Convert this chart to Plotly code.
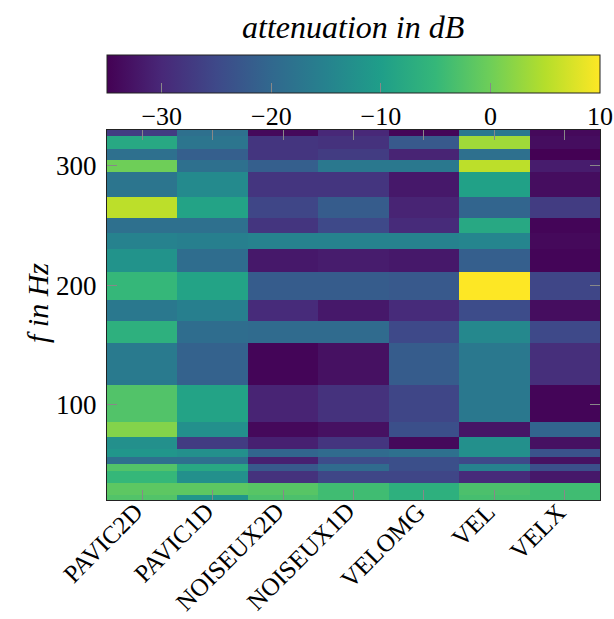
import plotly.graph_objects as go

methods = ["PAVIC2D", "PAVIC1D", "NOISEUX2D", "NOISEUX1D", "VELOMG", "VEL", "VELX"]

# frequency band edges in Hz (bottom to top)
band_edges_hz = [20.5, 24.7, 35.0, 44.8, 50.6, 56.5, 62.9, 73.5, 86.0, 116.7,
                 151.6, 169.7, 187.9, 211.0, 230.5, 243.9, 255.6, 273.8,
                 294.7, 304.2, 313.4, 324.5, 329.5]

# attenuation in dB, one row per band (bottom to top), columns follow `methods`
attenuation_db = [
    [-2.5, -11.5, -3.0, -4.0, -6.5, -3.5, -4.0],
    [-1.5, -1.5, -2.0, -4.0, -6.5, -3.0, -4.0],
    [-5.0, -12.5, -28.5, -25.5, -25.5, -29.5, -32.0],
    [-2.5, -8.0, -22.5, -19.5, -24.0, -15.0, -24.0],
    [-18.5, -18.5, -31.0, -24.5, -24.0, -25.0, -33.0],
    [-11.5, -12.5, -20.5, -19.5, -18.5, -12.5, -23.5],
    [-12.5, -27.0, -31.0, -28.0, -34.0, -12.5, -33.0],
    [1.5, -12.5, -34.0, -33.0, -24.0, -32.5, -20.5],
    [-2.5, -9.0, -30.5, -28.5, -25.5, -17.0, -34.5],
    [-16.5, -21.0, -34.5, -33.0, -22.0, -17.0, -29.0],
    [-6.5, -19.0, -19.5, -19.5, -25.0, -14.0, -25.0],
    [-17.0, -15.5, -29.5, -32.0, -29.5, -24.5, -33.5],
    [-5.0, -9.0, -22.0, -22.0, -22.5, 10.0, -25.5],
    [-12.0, -19.0, -32.0, -31.5, -32.0, -21.5, -34.5],
    [-15.0, -15.5, -15.0, -15.0, -15.0, -14.5, -34.0],
    [-18.5, -18.5, -28.0, -25.0, -29.5, -8.0, -34.5],
    [5.5, -9.0, -25.5, -22.0, -30.5, -20.5, -27.0],
    [-17.5, -13.5, -28.0, -28.0, -32.0, -9.5, -33.5],
    [0.0, -18.5, -21.5, -17.0, -17.0, 5.5, -31.5],
    [-18.5, -21.5, -28.0, -27.0, -30.5, -18.5, -35.0],
    [-8.0, -17.5, -28.0, -28.5, -22.5, 3.5, -33.5],
    [-27.0, -18.5, -34.0, -30.0, -34.5, -17.0, -34.0],
]

y_ticks = [100, 200, 300]
cbar_ticks = [-30, -20, -10, 0, 10]
z_min, z_max = -35, 10

FONT = "Liberation Serif"
W, H = 614, 619
ml, mr, mt, mb = 107, 14, 130, 119
ph = H - mt - mb
pw = W - ml - mr

def py(px_from_top):
    """figure pixel row -> paper y"""
    return (H - mb - px_from_top) / ph

def pxx(px_from_left):
    return (px_from_left - ml) / pw

cb_top, cb_thick = 55, 38

fig = go.Figure(go.Heatmap(
    z=attenuation_db,
    x=methods,
    y=band_edges_hz,
    zmin=z_min, zmax=z_max,
    colorscale="Viridis",
    colorbar=dict(
        orientation="h",
        x=0.5, xanchor="center",
        len=1, lenmode="fraction",
        y=py(cb_top), yanchor="top",
        thickness=cb_thick, thicknessmode="pixels",
        xpad=0, ypad=0,
        outlinewidth=1, outlinecolor="#222",
        ticks="inside", ticklen=10, tickcolor="#888", tickwidth=1,
        tickvals=cbar_ticks,
        ticklabeloverflow="allow",
        tickfont=dict(family=FONT, size=26, color="black"),
    ),
))

# mirrored colorbar tick marks along the top edge of the bar
shapes = []
for v in cbar_ticks[:-1]:
    xv = (v - z_min) / (z_max - z_min)
    shapes.append(dict(type="line", xref="paper", yref="paper",
                       x0=xv, x1=xv, y0=py(cb_top), y1=py(cb_top + 10),
                       line=dict(color="#888", width=1)))

# rotated category labels, anchored by their top-right corner under each tick
annotations = [
    dict(text=m, xref="x", yref="paper", x=m, y=0,
         xanchor="right", yanchor="top", xshift=9, yshift=5,
         textangle=-45, showarrow=False,
         font=dict(family=FONT, size=25, color="black"))
    for m in methods
]
annotations += [
    dict(text="<i>attenuation in dB</i>", xref="paper", yref="paper",
         x=pxx(353), y=py(27), xanchor="center", yanchor="middle",
         showarrow=False, font=dict(family=FONT, size=32, color="black")),
    dict(text="<i>f in Hz</i>", xref="paper", yref="paper",
         x=pxx(37), y=py(303), xanchor="center", yanchor="middle",
         textangle=-90, showarrow=False, font=dict(family=FONT, size=30, color="black")),
]

fig.update_layout(
    width=W, height=H,
    margin=dict(l=ml, r=mr, t=mt, b=mb, autoexpand=False),
    paper_bgcolor="white", plot_bgcolor="white",
    font=dict(family=FONT, color="black"),
    xaxis=dict(
        ticks="inside", ticklen=10, tickcolor="#888", showticklabels=False,
        showline=True, linecolor="#222", linewidth=1, mirror="ticks",
        showgrid=False, zeroline=False,
        range=[-0.5, len(methods) - 0.5], autorange=False,
    ),
    yaxis=dict(
        tickvals=y_ticks, ticks="inside", ticklen=10, tickcolor="#888",
        showline=True, linecolor="#222", linewidth=1, mirror="ticks",
        tickfont=dict(family=FONT, size=27), showgrid=False, zeroline=False,
        ticklabelstandoff=4,
        range=[band_edges_hz[0], band_edges_hz[-1]], autorange=False,
    ),
    shapes=shapes,
    annotations=annotations,
)

# remove the browser's default 8px page margin so the figure fills the window
fig.write_html("out.html", config={"displayModeBar": False},
               post_script="document.body.style.margin='0';")
